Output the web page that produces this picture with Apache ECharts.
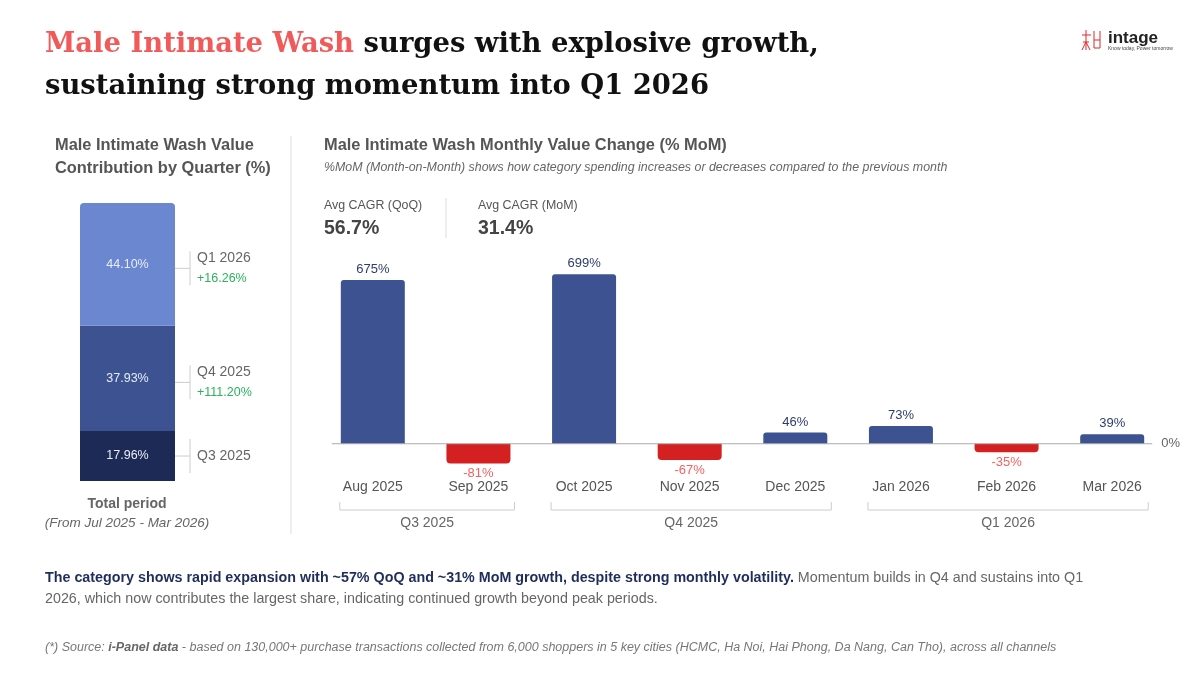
<!DOCTYPE html>
<html>
<head>
<meta charset="utf-8">
<script src="https://cdn.jsdelivr.net/npm/echarts@6/dist/echarts.min.js"></script>
<style>
  html, body { margin: 0; padding: 0; background: #fff; }
  #main { width: 1200px; height: 675px; }
</style>
</head>
<body>
<div id="main"></div>
<script>
// quarter share of total value (left stacked bar)
const quarterNames = ['Q3 2025', 'Q4 2025', 'Q1 2026'];
const quarterShare = [17.96, 37.93, 44.10];
const quarterGrowth = [null, 111.20, 16.26]; // QoQ growth shown next to the bar

// monthly % MoM change
const months = ['Aug 2025', 'Sep 2025', 'Oct 2025', 'Nov 2025', 'Dec 2025', 'Jan 2026', 'Feb 2026', 'Mar 2026'];
const momValues = [675, -81, 699, -67, 46, 73, -35, 39];
const monthQuarter = [0, 0, 1, 1, 1, 2, 2, 2]; // index into quarterNames

const avgCagrQoQ = 56.7;
const avgCagrMoM = 31.4;

const font = 'Liberation Sans, Arial, sans-serif';
const serif = 'DejaVu Serif, serif';
const leftColors = ['#1c2a55', '#3d5391', '#6a87d0'];
const posColor = '#3d5391';
const negColor = '#d42020';

const chart = echarts.init(document.getElementById('main'));

const leftSeries = quarterNames.map((q, i) => ({
  name: q,
  type: 'bar',
  stack: 'total',
  xAxisIndex: 0,
  yAxisIndex: 0,
  barWidth: 95,
  data: [quarterShare[i]],
  itemStyle: { color: leftColors[i], borderRadius: i === quarterNames.length - 1 ? [4, 4, 0, 0] : 0 },
  label: {
    show: true,
    position: 'inside',
    formatter: p => p.value.toFixed(2) + '%',
    color: '#e8ecf6',
    fontSize: 12.5,
    fontFamily: font
  }
}));

const option = {
  animation: false,
  backgroundColor: '#fff',
  grid: [
    { left: 80, width: 95, top: 203, height: 278 },
    { left: 320, width: 845, top: 274, height: 194 }
  ],
  xAxis: [
    { type: 'category', gridIndex: 0, data: ['Total'], show: false },
    {
      type: 'category',
      gridIndex: 1,
      data: months,
      axisLine: { show: false },
      axisTick: { show: false },
      axisLabel: { color: '#555', fontSize: 14, margin: 12, fontFamily: font }
    }
  ],
  yAxis: [
    { type: 'value', gridIndex: 0, min: 0, max: 100, show: false },
    { type: 'value', gridIndex: 1, min: -100, max: 700, show: false }
  ],
  series: [
    ...leftSeries,
    {
      type: 'bar',
      xAxisIndex: 1,
      yAxisIndex: 1,
      barWidth: 64,
      z: 3,
      data: momValues.map(v => ({
        value: v,
        itemStyle: { color: v >= 0 ? posColor : negColor, borderRadius: v >= 0 ? [3, 3, 0, 0] : [0, 0, 4, 4] },
        label: { position: v >= 0 ? 'top' : 'bottom', color: v >= 0 ? '#2e3d6b' : '#f26262' }
      })),
      label: { show: true, formatter: p => p.value + '%', fontSize: 13, distance: 4, fontFamily: font }
    }
  ]
};

chart.setOption(option);

// annotations placed from the axes' own scales
const g = [];
const txt = (x, y, text, style) => g.push({
  type: 'text', silent: true,
  style: Object.assign({ x, y, text, font: '14px ' + font, fill: '#555', textVerticalAlign: 'middle' }, style)
});
const line = (x1, y1, x2, y2, color, z) => g.push({
  type: 'line', silent: true, z: z || 0,
  shape: { x1, y1, x2, y2 },
  style: { stroke: color || '#ccc', lineWidth: 1 }
});

// headline
g.push({
  type: 'text', silent: true,
  style: {
    x: 45, y: 45, textVerticalAlign: 'middle',
    text: '{a|Male Intimate Wash}{b| surges with explosive growth,}',
    rich: {
      a: { fill: '#f05a5a', font: 'bold 27.4px ' + serif },
      b: { fill: '#111', font: 'bold 27.4px ' + serif }
    }
  }
});
txt(45, 87, 'sustaining strong momentum into Q1 2026', { font: 'bold 27.4px ' + serif, fill: '#111' });

// logo
const lr = '#e0262b';
line(1086, 30, 1086, 50, lr); line(1082, 35, 1091, 35, lr); line(1083, 42, 1089, 42, lr);
line(1086, 42, 1082, 50, lr); line(1086, 42, 1090, 50, lr);
line(1094, 31, 1094, 48, lr); line(1100, 31, 1100, 48, lr); line(1094, 40, 1100, 40, lr); line(1094, 48, 1100, 48, lr);
txt(1108, 38, 'intage', { font: 'bold 17px ' + font, fill: '#222' });
txt(1108, 49, 'Know today, Power tomorrow', { font: '5px ' + font, fill: '#444' });

// left panel
txt(55, 145, 'Male Intimate Wash Value', { font: 'bold 16.4px ' + font, fill: '#555' });
txt(55, 168, 'Contribution by Quarter (%)', { font: 'bold 16.4px ' + font, fill: '#555' });
txt(127, 504, 'Total period', { font: 'bold 14px ' + font, fill: '#666', textAlign: 'center' });
txt(127, 523, '(From Jul 2025 - Mar 2026)', { font: 'italic 13.5px ' + font, fill: '#666', textAlign: 'center' });

let cum = 0;
quarterNames.forEach((q, i) => {
  const mid = chart.convertToPixel({ gridIndex: 0 }, [0, cum + quarterShare[i] / 2]);
  const right = chart.convertToPixel({ gridIndex: 0 }, [0, 0])[0] + 47.5;
  cum += quarterShare[i];
  const two = quarterGrowth[i] != null;
  const cy = mid[1] + (two ? 4 : 0);
  line(right, cy, right + 15, cy);
  line(right + 15, cy - 17, right + 15, cy + 17);
  if (two) {
    txt(right + 22, cy - 10, q, { fill: '#666' });
    txt(right + 22, cy + 10, '+' + quarterGrowth[i].toFixed(2) + '%', { font: '12.5px ' + font, fill: '#2bb35c' });
  } else {
    txt(right + 22, cy, q, { fill: '#666' });
  }
});

// divider
line(291, 136, 291, 534, '#ddd');

// right panel header
txt(324, 145, 'Male Intimate Wash Monthly Value Change (% MoM)', { font: 'bold 16.4px ' + font, fill: '#555' });
txt(324, 168, '%MoM (Month-on-Month) shows how category spending increases or decreases compared to the previous month',
  { font: 'italic 12.4px ' + font, fill: '#666' });
txt(324, 206, 'Avg CAGR (QoQ)', { font: '12.4px ' + font, fill: '#555' });
txt(324, 229, avgCagrQoQ.toFixed(1) + '%', { font: 'bold 19.5px ' + font, fill: '#444' });
line(446, 198, 446, 238, '#ddd');
txt(478, 206, 'Avg CAGR (MoM)', { font: '12.4px ' + font, fill: '#555' });
txt(478, 229, avgCagrMoM.toFixed(1) + '%', { font: 'bold 19.5px ' + font, fill: '#444' });

// zero line across the monthly chart
const zeroY = chart.convertToPixel({ gridIndex: 1 }, [0, 0])[1];
const firstX = chart.convertToPixel({ gridIndex: 1 }, [0, 0])[0];
const lastX = chart.convertToPixel({ gridIndex: 1 }, [months.length - 1, 0])[0];
line(firstX - 41, zeroY, lastX + 40, zeroY, '#aaa', 10);
txt(lastX + 49, zeroY, '0%', { font: '13px ' + font, fill: '#666' });

// quarter brackets under the months
quarterNames.forEach((q, qi) => {
  const idx = monthQuarter.map((m, i) => m === qi ? i : -1).filter(i => i >= 0);
  if (!idx.length) return;
  const x1 = chart.convertToPixel({ gridIndex: 1 }, [idx[0], 0])[0] - 33;
  const x2 = chart.convertToPixel({ gridIndex: 1 }, [idx[idx.length - 1], 0])[0] + 36;
  line(x1, 510, x2, 510);
  line(x1, 502, x1, 510);
  line(x2, 502, x2, 510);
  txt((x1 + x2) / 2, 523, q, { textAlign: 'center', fill: '#666' });
});

// commentary
g.push({
  type: 'text', silent: true,
  style: {
    x: 45, y: 578, textVerticalAlign: 'middle',
    text: '{b|The category shows rapid expansion with ~57% QoQ and ~31% MoM growth, despite strong monthly volatility.}{n| Momentum builds in Q4 and sustains into Q1}',
    rich: {
      b: { font: 'bold 14.3px ' + font, fill: '#1f2d5c' },
      n: { font: '14.3px ' + font, fill: '#666' }
    }
  }
});
txt(45, 599, '2026, which now contributes the largest share, indicating continued growth beyond peak periods.', { font: '14.3px ' + font, fill: '#666' });
g.push({
  type: 'text', silent: true,
  style: {
    x: 45, y: 648, textVerticalAlign: 'middle',
    text: '{n|(*) Source: }{b|i-Panel data}{n| - based on 130,000+ purchase transactions collected from 6,000 shoppers in 5 key cities (HCMC, Ha Noi, Hai Phong, Da Nang, Can Tho), across all channels}',
    rich: {
      b: { font: 'italic bold 12.5px ' + font, fill: '#666' },
      n: { font: 'italic 12.5px ' + font, fill: '#777' }
    }
  }
});

chart.setOption({ graphic: g });
</script>
</body>
</html>
